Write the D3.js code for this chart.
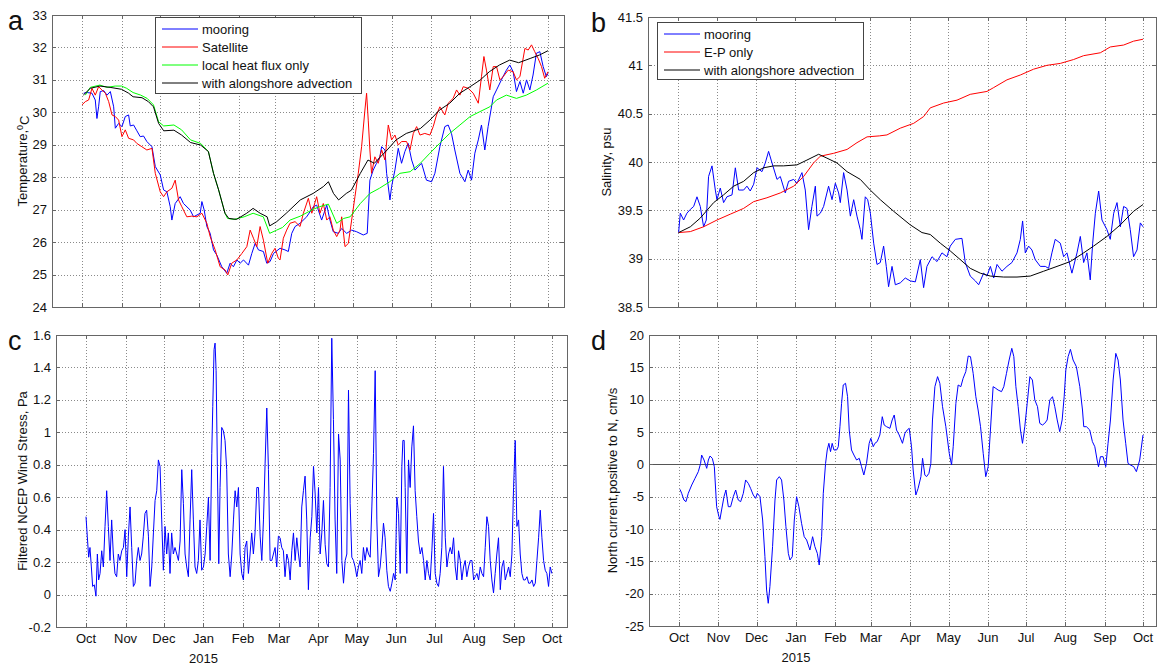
<!DOCTYPE html>
<head>
<meta charset="utf-8">
<script src="https://d3js.org/d3.v7.min.js"></script>
<style>
  html, body { margin: 0; padding: 0; background: #fff; }
  svg { display: block; font-family: "Liberation Sans", Arial, sans-serif; }
  .grid line { stroke: #8a8a8a; stroke-dasharray: 1,2; shape-rendering: crispEdges; }
  .frame { fill: none; stroke: #666; shape-rendering: crispEdges; }
  .tick { stroke: #666; shape-rendering: crispEdges; }
  .series { fill: none; stroke-width: 1; stroke-linejoin: round; }
  text { fill: #111; font-size: 13px; }
</style>
</head>
<body>
<svg width="1157" height="667"></svg>
<script>
// day offsets from 1 Oct 2014
var monthLabels = ["Oct","Nov","Dec","Jan","Feb","Mar","Apr","May","Jun","Jul","Aug","Sep","Oct"];
var yearLabel = "2015";
var tempTicks = [24,25,26,27,28,29,30,31,32,33];
var salTicks = [38.5,39,39.5,40,40.5,41,41.5];
var windTicks = [-0.2,0,0.2,0.4,0.6,0.8,1,1.2,1.4,1.6];
var currTicks = [-25,-20,-15,-10,-5,0,5,10,15,20];

var mooringT = [[1.3,30.59],[3.9,30.61],[7.8,30.59],[10.4,30.38],[11.7,29.81],[13,30.17],[14.3,30.64],[17,30.67],[19.6,30.53],[22.2,30.64],[24.8,30.17],[26.1,29.51],[28.7,29.66],[31.3,29.56],[33.9,29.87],[36.5,29.92],[37.8,29.58],[40.4,29.61],[43,29.43],[45.6,29.25],[48.2,29.27],[50.8,29.1],[54.8,28.94],[57.4,28.33],[61.3,28.07],[63.9,27.61],[66.5,27.55],[69.1,27.09],[70.4,26.68],[73,27.19],[76.9,27.4],[79.5,27.19],[84.7,26.99],[87.4,26.78],[92.6,26.89],[93.9,27.25],[95.7,26.99],[97.8,26.48],[100.4,26.27],[103,25.76],[105.6,25.6],[109.5,25.24],[113.4,25.04],[116,25.35],[118.6,25.24],[121.3,25.45],[123.9,25.35],[126.5,25.45],[130.4,25.29],[133,25.65],[135.6,25.96],[138.2,25.76],[142.1,25.71],[144.7,25.35],[147.3,25.4],[150,25.65],[155.1,25.81],[159,25.76],[161.6,25.71],[164.3,26.27],[166.9,26.48],[170.8,26.58],[176,26.78],[181.2,27.09],[183.8,27.14],[187.7,26.68],[191.7,27.14],[194.2,26.68],[196.8,26.32],[200.8,26.27],[203.4,26.42],[207.3,26.27],[211.2,26.37],[215.1,26.32],[220.3,26.22],[223.4,26.27],[225.5,27.91],[228.1,28.22],[230.7,28.43],[233.3,28.63],[234.7,28.94],[237.3,28.84],[238.6,28.12],[241.2,27.3],[242.5,27.71],[243.8,27.97],[245.1,28.22],[247.7,28.89],[250.3,28.43],[252.9,28.79],[255.5,29.04],[258.2,28.53],[260.8,28.22],[263.4,28.33],[266,28.43],[269.8,27.91],[273.8,27.86],[276.4,28.12],[280.3,28.94],[284.2,29.56],[286.8,29.61],[289.4,29.35],[292,28.84],[296,28.12],[299.9,27.86],[302.5,28.22],[305.1,27.91],[307.7,28.74],[310.4,29.15],[312.9,29.61],[315.5,28.84],[318.1,29.56],[322.1,30.48],[324.7,30.69],[328.5,31.0],[332.4,31.3],[335.1,31.46],[337.7,31.25],[340.3,30.64],[343,30.95],[345.6,30.59],[348.2,31.0],[350.8,30.69],[353.3,31.15],[355.9,31.82],[358.6,31.87],[361.2,31.41],[363.7,31.1],[365,31.2]];

var satelliteT = [[0,30.23],[2.6,30.33],[5.2,30.38],[7.8,30.74],[10.4,30.53],[13,30.79],[15.6,30.69],[18.3,30.59],[20.9,30.33],[23.5,29.92],[26.1,29.87],[28.7,29.76],[31.3,29.25],[33.9,29.46],[36.5,29.2],[40.4,29.15],[43,29.04],[46.9,28.94],[50.8,28.84],[54.8,28.89],[57.4,28.12],[61.3,27.55],[63.9,27.4],[66.5,27.55],[70.4,27.66],[73,27.91],[75.6,27.3],[78.2,27.09],[82.1,26.78],[86,26.8],[90,26.78],[93.9,26.89],[97.8,26.58],[100.4,26.17],[104.3,25.76],[108.2,25.24],[112.1,25.14],[114.2,24.99],[117.3,25.35],[121.3,25.45],[125.2,25.65],[129.1,25.86],[131.7,26.37],[134.3,26.12],[136.9,25.86],[139.5,26.48],[142.1,26.06],[145.5,25.35],[148.6,25.65],[151.2,25.81],[153.8,25.5],[155.1,25.45],[157.7,26.12],[160.3,26.37],[162.9,26.58],[166.9,26.63],[170.8,26.48],[173.4,26.89],[177.3,27.35],[180,26.89],[183.8,27.4],[186.4,26.89],[189,27.19],[191.7,26.68],[194.2,26.78],[196.8,26.37],[199.5,26.17],[202.1,26.37],[203.4,26.78],[206,25.86],[208.6,25.96],[211.2,26.68],[213.8,27.4],[216.4,28.12],[219,28.94],[221.6,30.07],[222.9,30.59],[224.2,29.76],[225.5,28.84],[226.8,28.12],[229.4,28.63],[232,28.43],[234.7,28.84],[237.3,28.53],[239.9,29.61],[242.5,29.15],[245.1,29.3],[247.7,28.99],[250.3,29.1],[254.2,29.1],[256.9,28.84],[259.5,29.35],[262.1,29.56],[264.7,29.3],[268.5,29.35],[272.5,29.3],[275.1,29.56],[277.7,29.92],[280.3,30.17],[284.2,29.92],[286.8,30.28],[290.7,30.43],[293.4,30.69],[296,30.53],[298.6,30.79],[302.5,30.74],[306.4,30.59],[310.4,30.28],[312.9,31.1],[314.8,31.72],[316.8,31.3],[319.4,30.69],[322.1,31.41],[324.7,31.41],[327.3,31.0],[329.9,31.1],[333.8,31.3],[337.7,31.25],[340.3,31.0],[343,31.1],[346.9,31.97],[349.5,31.92],[352.1,32.08],[354.6,31.87],[357.3,31.66],[359.9,31.41],[362.4,31.05],[365,31.25]];

var heatFluxT = [[2.6,30.53],[6.5,30.77],[14,30.84],[19.6,30.77],[26,30.81],[31,30.81],[35,30.74],[40,30.61],[46,30.53],[51,30.43],[56,30.23],[60,29.71],[64,29.58],[72,29.61],[78,29.46],[85,29.15],[93,29.04],[99,28.79],[103,28.12],[107,27.61],[112,26.89],[114,26.73],[119,26.7],[127,26.78],[134,26.89],[142,26.78],[147,26.27],[152.5,26.37],[157,26.45],[163,26.68],[171,26.8],[181,27.01],[186,27.09],[193,27.17],[199.5,26.58],[205,26.73],[210,26.78],[218,27.19],[225.5,27.5],[233,27.66],[241,27.86],[249,28.12],[257,28.17],[265,28.43],[272.5,28.74],[280,29.04],[288,29.35],[296,29.61],[304,29.87],[311.6,30.02],[319.4,30.17],[324.7,30.38],[332.4,30.53],[340.3,30.43],[348,30.53],[356,30.69],[365,30.9]];

var advectionT = [[1,30.53],[6.5,30.74],[14,30.81],[22,30.77],[31,30.71],[36.5,30.59],[40,30.48],[47,30.45],[52,30.33],[56,30.17],[60,29.66],[64,29.43],[72,29.45],[78,29.3],[85,29.07],[93,28.99],[99,28.79],[103,28.12],[107,27.61],[112,26.89],[115,26.73],[121,26.7],[129,26.89],[134,27.04],[139.5,26.89],[145,26.78],[147,26.5],[152.5,26.63],[160,26.89],[171,27.3],[181,27.5],[189,27.71],[193,27.86],[197,27.5],[201,27.3],[207,27.5],[211,27.6],[218,28.12],[224,28.53],[229,28.43],[239,28.84],[246,29.15],[254,29.35],[265,29.5],[272.5,29.76],[280,30.07],[288,30.28],[296,30.59],[304,30.79],[312,31.0],[319,31.25],[327,31.46],[335,31.61],[342,31.53],[351,31.66],[358.5,31.77],[365,31.9]];

var mooringS = [[0.5,39.27],[1.8,39.47],[4.4,39.4],[7,39.47],[9.7,39.51],[12.3,39.54],[14.9,39.64],[17.5,39.54],[20.1,39.33],[22.2,39.4],[24,39.85],[26.7,39.96],[29.3,39.71],[30.6,39.61],[33.2,39.73],[35.8,39.58],[38.4,39.64],[42.4,39.66],[45,39.94],[47.6,39.71],[51.5,39.71],[54.1,39.75],[56.7,39.7],[59.4,39.77],[62,39.94],[65.9,39.9],[68.5,39.99],[71.1,40.11],[73.8,39.99],[77.7,39.82],[80.3,39.85],[84.2,39.68],[86.8,39.8],[90.8,39.82],[93.4,39.78],[97.3,39.89],[99.9,39.71],[102.5,39.3],[105.1,39.54],[107.8,39.75],[109.1,39.44],[111.7,39.47],[114.3,39.54],[118.2,39.75],[120.9,39.61],[123.5,39.78],[126.1,39.68],[127.4,39.58],[130,39.89],[132.7,39.71],[135.3,39.44],[137.9,39.61],[140.5,39.44],[143.1,39.3],[144.4,39.2],[147,39.64],[148.9,39.61],[151,39.47],[153.6,39.16],[156.2,38.94],[158.8,38.96],[161.4,39.13],[163.5,38.92],[165.3,38.71],[168,38.92],[170.6,38.73],[174.5,38.75],[178.4,38.8],[182.3,38.77],[186.3,38.76],[190.2,38.99],[192.8,38.7],[195.4,38.92],[199.4,39.02],[203.3,38.97],[207.2,39.06],[211.1,39.02],[213.7,39.13],[217.7,39.2],[222.9,39.21],[225.5,38.96],[229.4,38.82],[233.4,38.77],[236,38.73],[239.9,38.85],[242.5,38.82],[245.2,38.92],[247.8,38.8],[250.4,38.94],[254.3,38.87],[258.2,38.92],[262.1,38.96],[266.1,39.06],[268.7,39.2],[270.5,39.39],[272.6,39.06],[275.2,39.13],[277.8,39.09],[280.4,38.99],[284.4,38.92],[288.3,38.92],[290.9,38.9],[293.5,39.06],[296.1,39.2],[300.1,39.16],[302.7,39.02],[305.3,39.06],[309.2,38.85],[313.2,39.06],[315.8,39.23],[318.4,38.96],[321,39.06],[323.6,38.78],[325.5,39.16],[327.6,39.47],[330.2,39.7],[332.8,39.4],[336.7,39.3],[339.3,39.2],[342,39.47],[344.6,39.58],[347.2,39.33],[349.8,39.54],[352.4,39.52],[355,39.3],[357.6,39.02],[360.3,39.09],[362.9,39.37],[365,39.33]];

var epOnlyS = [[0.5,39.27],[9.7,39.28],[20.1,39.33],[30.6,39.4],[41,39.46],[51.5,39.52],[59.4,39.59],[69.8,39.63],[80.3,39.68],[90.8,39.75],[98.6,39.85],[106.4,39.99],[111.7,40.06],[122.2,40.09],[132.7,40.13],[140.5,40.2],[148.4,40.26],[158,40.27],[164,40.28],[174.5,40.35],[185,40.4],[192.8,40.47],[198,40.56],[208.5,40.61],[219,40.64],[229.4,40.7],[242.5,40.73],[247.8,40.77],[258.2,40.85],[268.7,40.9],[279.1,40.96],[289.6,41.0],[300.1,41.02],[310.5,41.06],[318.4,41.1],[331.5,41.13],[339.3,41.19],[349.8,41.21],[357.6,41.25],[365,41.27]];

var advectionS = [[0.5,39.27],[9.7,39.33],[17.5,39.42],[28,39.58],[35.8,39.66],[43.7,39.75],[51.5,39.8],[59.4,39.89],[67.2,39.94],[75.1,39.96],[82.9,39.96],[93.4,39.97],[101.2,40.02],[110.4,40.08],[116.9,40.04],[124.8,39.99],[132.7,39.9],[143.1,39.82],[150.9,39.71],[158.8,39.61],[169.3,39.49],[182.3,39.35],[191.5,39.27],[198,39.25],[205.9,39.16],[213.7,39.08],[221.6,38.99],[229.4,38.9],[237.3,38.85],[245.2,38.82],[255.6,38.81],[266.1,38.81],[276.5,38.82],[287,38.87],[297.5,38.92],[307.9,38.97],[318.4,39.06],[326.2,39.13],[336.7,39.23],[347.2,39.35],[357.6,39.49],[365,39.56]];

var windStress = [[0,0.48],[1,0.36],[2.1,0.23],[3.1,0.29],[4.2,0.17],[5.2,0.05],[6.5,0.06],[7.8,-0.01],[8.9,0.25],[9.9,0.09],[11,0.13],[12.3,0.27],[13.6,0.17],[14.9,0.42],[16.2,0.64],[17.5,0.42],[18.8,0.21],[20.1,0.46],[21.4,0.25],[22.7,0.13],[24,0.11],[25.3,0.25],[26.6,0.21],[28,0.27],[29.3,0.29],[30.6,0.4],[31.9,0.11],[33.2,0.36],[34.5,0.54],[35.8,0.29],[37.1,0.05],[38.4,0.07],[39.7,0.21],[41,0.29],[42.3,0.21],[43.6,0.25],[44.9,0.36],[46.2,0.5],[47.5,0.52],[48.9,0.36],[50.2,0.05],[51.5,0.17],[52.8,0.38],[54.1,0.58],[55.4,0.64],[56.7,0.83],[58,0.79],[59.3,0.46],[60.6,0.15],[61.9,0.42],[63.2,0.25],[64.5,0.38],[65.8,0.13],[67.1,0.38],[68.4,0.25],[69.7,0.29],[71.1,0.25],[72.4,0.21],[73.7,0.33],[75,0.77],[76.3,0.56],[77.6,0.25],[78.9,0.17],[80.2,0.11],[81.5,0.46],[82.8,0.77],[84.1,0.46],[85.4,0.17],[86.7,0.13],[88,0.21],[89.3,0.46],[90.6,0.15],[92,0.17],[93.3,0.25],[94.6,0.42],[95.9,0.6],[97.2,0.21],[98.5,0.87],[99.3,1.16],[100.3,1.51],[101.1,1.55],[101.9,1.38],[102.9,0.79],[104,0.19],[105,0.66],[106.3,1.03],[107.6,1.01],[108.9,0.95],[110.2,0.77],[111.5,0.25],[112.9,0.11],[114.2,0.25],[115.5,0.46],[116.8,0.64],[118.1,0.54],[119.4,0.66],[120.7,0.25],[122,0.13],[123.3,0.09],[124.6,0.29],[125.9,0.33],[127.2,0.13],[128.5,0.25],[129.8,0.38],[131.1,0.25],[132.4,0.38],[133.8,0.66],[135.1,0.66],[136.4,0.36],[137.7,0.21],[139,0.46],[140.3,0.81],[141.6,1.15],[142.9,0.77],[144.2,0.21],[145.5,0.21],[146.8,0.25],[148.1,0.29],[149.4,0.17],[150.7,0.36],[152,0.35],[153.3,0.29],[154.6,0.27],[155.9,0.11],[157.3,0.25],[158.6,0.21],[159.9,0.09],[161.2,0.27],[162.5,0.38],[163.8,0.21],[165.1,0.35],[166.4,0.25],[167.7,0.17],[169,0.54],[170.3,0.64],[171.6,0.73],[172.9,0.46],[174.2,0.03],[175.6,0.35],[176.9,0.48],[178.2,0.79],[179.5,0.62],[180.8,0.38],[182.1,0.66],[183.4,0.25],[184.7,0.38],[186,0.58],[187.3,0.31],[188.6,0.19],[189.9,0.17],[191.2,0.66],[192.5,1.58],[193.8,1.08],[195.1,0.46],[196.4,0.13],[197.8,0.99],[199.1,0.83],[200.4,0.21],[201.7,0.07],[203,0.21],[204.3,0.25],[205.6,1.26],[206.9,0.56],[208.2,0.23],[209.5,0.21],[210.8,0.17],[212.1,0.11],[213.4,0.17],[214.7,0.21],[216,0.13],[217.3,0.29],[218.6,0.21],[220,0.29],[221.3,0.25],[222.6,0.23],[223.9,0.54],[225.2,0.87],[226.5,1.38],[227.8,0.46],[229.1,0.11],[230.4,0.17],[231.7,0.29],[233,0.44],[234.3,0.35],[235.6,0.15],[236.9,0.05],[238.3,0.02],[239.6,0.07],[240.9,0.13],[242.2,0.09],[243.5,0.6],[244.8,0.5],[246.1,0.13],[247.4,0.79],[248.2,0.95],[249.2,0.95],[250,0.66],[251.3,0.13],[252.6,0.83],[253.9,0.66],[255.2,0.91],[256.5,1.04],[257.8,0.64],[259.1,0.48],[260.4,0.33],[261.8,0.25],[263.1,0.29],[264.4,0.21],[265.7,0.09],[267,0.21],[268.3,0.13],[269.6,0.09],[270.9,0.27],[272.2,0.5],[273.5,0.13],[274.8,0.07],[276.1,0.05],[277.4,0.13],[278.7,0.29],[280,0.79],[281.4,0.35],[282.7,0.17],[284,0.25],[285.3,0.29],[286.6,0.25],[287.9,0.35],[289.2,0.17],[290.5,0.09],[291.8,0.27],[293.1,0.21],[294.4,0.09],[295.7,0.17],[297,0.21],[298.3,0.11],[299.6,0.17],[301,0.21],[302.3,0.21],[303.6,0.09],[304.9,0.11],[306.2,0.13],[307.5,0.09],[308.8,0.17],[310.1,0.13],[311.4,0.11],[312.7,0.29],[314,0.48],[315.3,0.42],[316.6,0.21],[317.9,0.09],[319.2,0.01],[320.5,0.13],[321.8,0.25],[323.1,0.35],[324.5,0.03],[325.8,0.17],[327.1,0.21],[328.4,0.09],[329.7,0.13],[331,0.17],[332.3,0.11],[333.6,0.25],[334.9,0.66],[336.2,0.95],[337.5,0.42],[338.8,0.46],[340.1,0.25],[341.4,0.13],[342.7,0.09],[344,0.09],[345.4,0.11],[346.7,0.07],[348,0.07],[349.3,0.09],[350.6,0.05],[351.9,0.07],[353.2,0.21],[354.5,0.35],[355.8,0.52],[357.1,0.35],[358.4,0.21],[359.7,0.15],[361,0.13],[362.3,0.05],[363.6,0.17],[364.9,0.13]];

var northCurrent = [[0.8,-3.87],[2.1,-4.48],[3.9,-5.52],[5.5,-5.77],[7.3,-4.48],[10,-3.2],[12.6,-2.16],[15.2,-1.13],[17,0.15],[17.8,1.44],[19.7,0.67],[21.8,-0.62],[23.1,0.67],[24.4,1.29],[26.2,0.93],[27.8,-0.36],[29.6,-6.55],[31.4,-8.09],[32.2,-8.51],[33.5,-7.06],[35.4,-5.0],[36.9,-3.97],[38.8,-6.55],[40.6,-6.55],[42.7,-5.0],[44.6,-3.97],[46.6,-5.52],[48.5,-5.77],[50.6,-4.48],[52.4,-2.42],[54.5,-2.94],[56.3,-3.71],[58.4,-4.74],[60.3,-5.26],[61.6,-4.48],[63.7,-5.0],[65.8,-8.61],[67.6,-14.28],[68.9,-19.43],[70.2,-21.49],[71.5,-18.92],[73.6,-12.73],[75.5,-5.52],[76.8,-2.42],[78.9,-1.91],[80.7,-2.42],[82.5,-5.52],[84.1,-9.64],[86,-13.76],[87.3,-14.79],[89.1,-14.28],[90.7,-8.61],[92.5,-5.0],[94.3,-6.55],[96.4,-9.12],[98.5,-11.19],[100.4,-11.7],[103,-13.25],[105.1,-11.19],[106.9,-12.73],[108.8,-13.76],[110.3,-15.57],[112.2,-11.19],[113.5,-4.48],[115.3,0.15],[116.6,2.22],[117.9,3.25],[119.2,1.96],[120.5,3.25],[121.9,2.22],[124,2.22],[125.3,2.73],[126.6,5.82],[127.9,9.43],[129.2,12.27],[131,12.53],[132.6,10.46],[133.9,5.31],[135.7,2.22],[137.6,1.44],[139.7,0.67],[141.8,0.93],[143.6,-0.36],[145.4,-1.65],[147.5,0.15],[149.6,3.25],[150.9,4.02],[152.8,2.73],[154.1,3.25],[155.9,3.51],[158,4.54],[159.9,7.37],[161.4,6.08],[163.3,5.82],[165.9,5.57],[167.7,6.86],[169.3,7.63],[171.1,5.31],[173.2,4.54],[175.8,3.25],[177.7,4.79],[179.5,5.31],[181.1,5.57],[182.9,2.73],[184.2,-0.88],[186.3,-4.74],[188.1,-3.71],[190.3,-1.91],[191.6,0.93],[193.4,-1.65],[194.7,-1.91],[196.6,-1.39],[198.1,0.15],[199.4,6.86],[201.3,12.01],[203.4,13.56],[205.2,12.53],[207.3,8.92],[209.9,5.82],[212.6,1.7],[214.4,-0.1],[215.7,2.73],[217.8,9.43],[219.6,12.27],[221.7,12.01],[223.5,13.3],[225.6,14.33],[227.5,16.75],[229.3,16.65],[231.4,14.07],[233.5,10.46],[235.3,8.4],[237.2,5.82],[239.3,1.7],[241.3,-1.91],[243.2,-0.36],[245,5.31],[247.1,12.01],[249.2,11.75],[251,11.49],[253.7,11.24],[255.5,12.01],[257.6,14.07],[259.7,16.13],[261.8,17.94],[263.4,16.65],[265,12.01],[266.8,8.92],[268.6,5.31],[270.2,3.25],[272,5.82],[273.9,9.43],[276,13.56],[278,13.04],[279.9,9.95],[282,8.92],[283.8,6.34],[285.9,6.08],[287.7,6.34],[289.6,6.86],[291.7,9.95],[293.8,10.46],[295.6,8.92],[297.5,6.86],[299.5,5.05],[301.4,6.86],[303,10.46],[304.3,14.59],[306.1,16.65],[307.9,17.78],[310,16.13],[312.6,15.1],[315.3,12.01],[317.4,8.4],[318.4,5.82],[320.5,5.82],[323.1,5.31],[325.2,3.51],[327.1,2.73],[328.9,0.67],[330,-0.36],[331.5,1.18],[333.6,1.18],[335.7,-0.36],[337.5,3.25],[339.4,6.86],[341.5,13.04],[343.6,17.16],[345.4,16.13],[347.2,13.04],[349.3,6.86],[351.4,3.25],[353.2,0.15],[355.1,-0.1],[357.7,-0.36],[359.8,-1.13],[362.4,0.67],[365,4.54]];

var svg = d3.select("svg");
var t0 = new Date(Date.UTC(2014, 9, 1));
var t1 = new Date(Date.UTC(2015, 9, 1));
var months = d3.utcMonth.range(t0, d3.utcDay.offset(t1, 1));
function dt(d) { return new Date(t0.getTime() + d * 864e5); }

function panel(p) {
    var g = svg.append("g");
    var x = d3.scaleUtc().domain([t0, t1]).range([p.oct0, p.oct1]);
    var y = d3.scaleLinear().domain([p.ticks[0], p.ticks[p.ticks.length - 1]]).range([p.bottom, p.top]);

    var grid = g.append("g").attr("class", "grid");
    grid.selectAll(".vx").data(months).enter().append("line")
        .attr("x1", function(d) { return Math.round(x(d)) + 0.5; })
        .attr("x2", function(d) { return Math.round(x(d)) + 0.5; })
        .attr("y1", p.top).attr("y2", p.bottom);
    grid.selectAll(".hy").data(p.ticks.slice(1, -1)).enter().append("line")
        .attr("x1", p.left).attr("x2", p.right)
        .attr("y1", function(d) { return Math.round(y(d)) + 0.5; })
        .attr("y2", function(d) { return Math.round(y(d)) + 0.5; });

    if (p.zero) {
        g.append("line").attr("x1", p.left).attr("x2", p.right)
            .attr("y1", Math.round(y(0)) + 0.5).attr("y2", Math.round(y(0)) + 0.5)
            .attr("stroke", "#555").attr("shape-rendering", "crispEdges");
    }

    var clipId = "clip" + p.name;
    g.append("clipPath").attr("id", clipId).append("rect")
        .attr("x", p.left).attr("y", p.top).attr("width", p.right - p.left).attr("height", p.bottom - p.top);

    var line = d3.line()
        .x(function(d) { return x(dt(d[0])); })
        .y(function(d) { return y(d[1]); });

    var lines = g.append("g").attr("clip-path", "url(#" + clipId + ")");
    p.series.forEach(function(s) {
        lines.append("path").attr("class", "series")
            .attr("d", line(s.data)).attr("stroke", s.color);
    });

    // frame and inward ticks on all four sides
    g.append("rect").attr("class", "frame")
        .attr("x", p.left + 0.5).attr("y", p.top + 0.5)
        .attr("width", p.right - p.left).attr("height", p.bottom - p.top);
    months.forEach(function(m) {
        var xx = Math.round(x(m)) + 0.5;
        g.append("line").attr("class", "tick").attr("x1", xx).attr("x2", xx).attr("y1", p.bottom).attr("y2", p.bottom - 4);
        g.append("line").attr("class", "tick").attr("x1", xx).attr("x2", xx).attr("y1", p.top).attr("y2", p.top + 4);
    });
    p.ticks.forEach(function(t) {
        var yy = Math.round(y(t)) + 0.5;
        g.append("line").attr("class", "tick").attr("x1", p.left).attr("x2", p.left + 4).attr("y1", yy).attr("y2", yy);
        g.append("line").attr("class", "tick").attr("x1", p.right).attr("x2", p.right - 4).attr("y1", yy).attr("y2", yy);
    });

    g.selectAll(".ylab").data(p.ticks).enter().append("text")
        .attr("x", p.left - 5).attr("y", function(d) { return y(d); })
        .attr("dy", "0.35em").attr("text-anchor", "end")
        .text(function(d) { return d; });

    if (p.monthAxis) {
        g.selectAll(".xlab").data(months).enter().append("text")
            .attr("x", function(d) { return x(d); }).attr("y", p.bottom + 16)
            .attr("text-anchor", "middle")
            .text(function(d, i) { return monthLabels[i]; });
        g.append("text").attr("x", x(new Date(Date.UTC(2015, 0, 1)))).attr("y", p.bottom + 36)
            .attr("text-anchor", "middle").text(yearLabel);
    }

    var yl = g.append("text")
        .attr("transform", "translate(" + p.ylabX + "," + (p.top + p.bottom) / 2 + ") rotate(-90)")
        .attr("text-anchor", "middle");
    p.ylabel(yl);

    g.append("text").attr("x", p.letterX).attr("y", p.top + 15)
        .style("font-size", "27px").text(p.name);

    if (p.legend) {
        var L = p.legend;
        g.append("rect").attr("x", L.x + 0.5).attr("y", L.y + 0.5).attr("width", L.w).attr("height", L.h)
            .attr("fill", "#fff").attr("stroke", "#444").attr("shape-rendering", "crispEdges");
        p.series.forEach(function(s, i) {
            var ly = L.y + 12 + i * 18;
            g.append("line").attr("x1", L.x + 7).attr("x2", L.x + 43).attr("y1", ly).attr("y2", ly)
                .attr("stroke", s.color);
            g.append("text").attr("x", L.x + 47).attr("y", ly).attr("dy", "0.35em").text(s.label);
        });
    }
}

panel({
    name: "a", left: 52, right: 564, top: 15, bottom: 307, oct0: 82, oct1: 548,
    ticks: tempTicks, letterX: 8, ylabX: 27,
    ylabel: function(t) {
        t.append("tspan").text("Temperature,");
        t.append("tspan").attr("dy", "-0.4em").style("font-size", "9px").text("0");
        t.append("tspan").attr("dy", "0.4em").text("C");
    },
    series: [
        {label: "mooring", color: "#0000ff", data: mooringT},
        {label: "Satellite", color: "#ff0000", data: satelliteT},
        {label: "local heat flux only", color: "#00ff00", data: heatFluxT},
        {label: "with alongshore advection", color: "#000000", data: advectionT}
    ],
    legend: {x: 155, y: 17, w: 206, h: 76}
});

panel({
    name: "b", left: 648, right: 1156, top: 17, bottom: 307, oct0: 678, oct1: 1143,
    ticks: salTicks, letterX: 591, ylabX: 611,
    ylabel: function(t) { t.text("Salinity, psu"); },
    series: [
        {label: "mooring", color: "#0000ff", data: mooringS},
        {label: "E-P only", color: "#ff0000", data: epOnlyS},
        {label: "with alongshore advection", color: "#000000", data: advectionS}
    ],
    legend: {x: 657, y: 22, w: 206, h: 57}
});

panel({
    name: "c", left: 56, right: 567, top: 335, bottom: 627, oct0: 86, oct1: 552,
    ticks: windTicks, letterX: 8, ylabX: 27, monthAxis: true,
    ylabel: function(t) { t.text("Filtered NCEP Wind Stress, Pa"); },
    series: [{color: "#0000ff", data: windStress}]
});

panel({
    name: "d", left: 649, right: 1156, top: 335, bottom: 626, oct0: 679, oct1: 1143,
    ticks: currTicks, letterX: 591, ylabX: 617, monthAxis: true, zero: true,
    ylabel: function(t) { t.text("North current,positive to N, cm/s"); },
    series: [{color: "#0000ff", data: northCurrent}]
});
</script>
</body>
